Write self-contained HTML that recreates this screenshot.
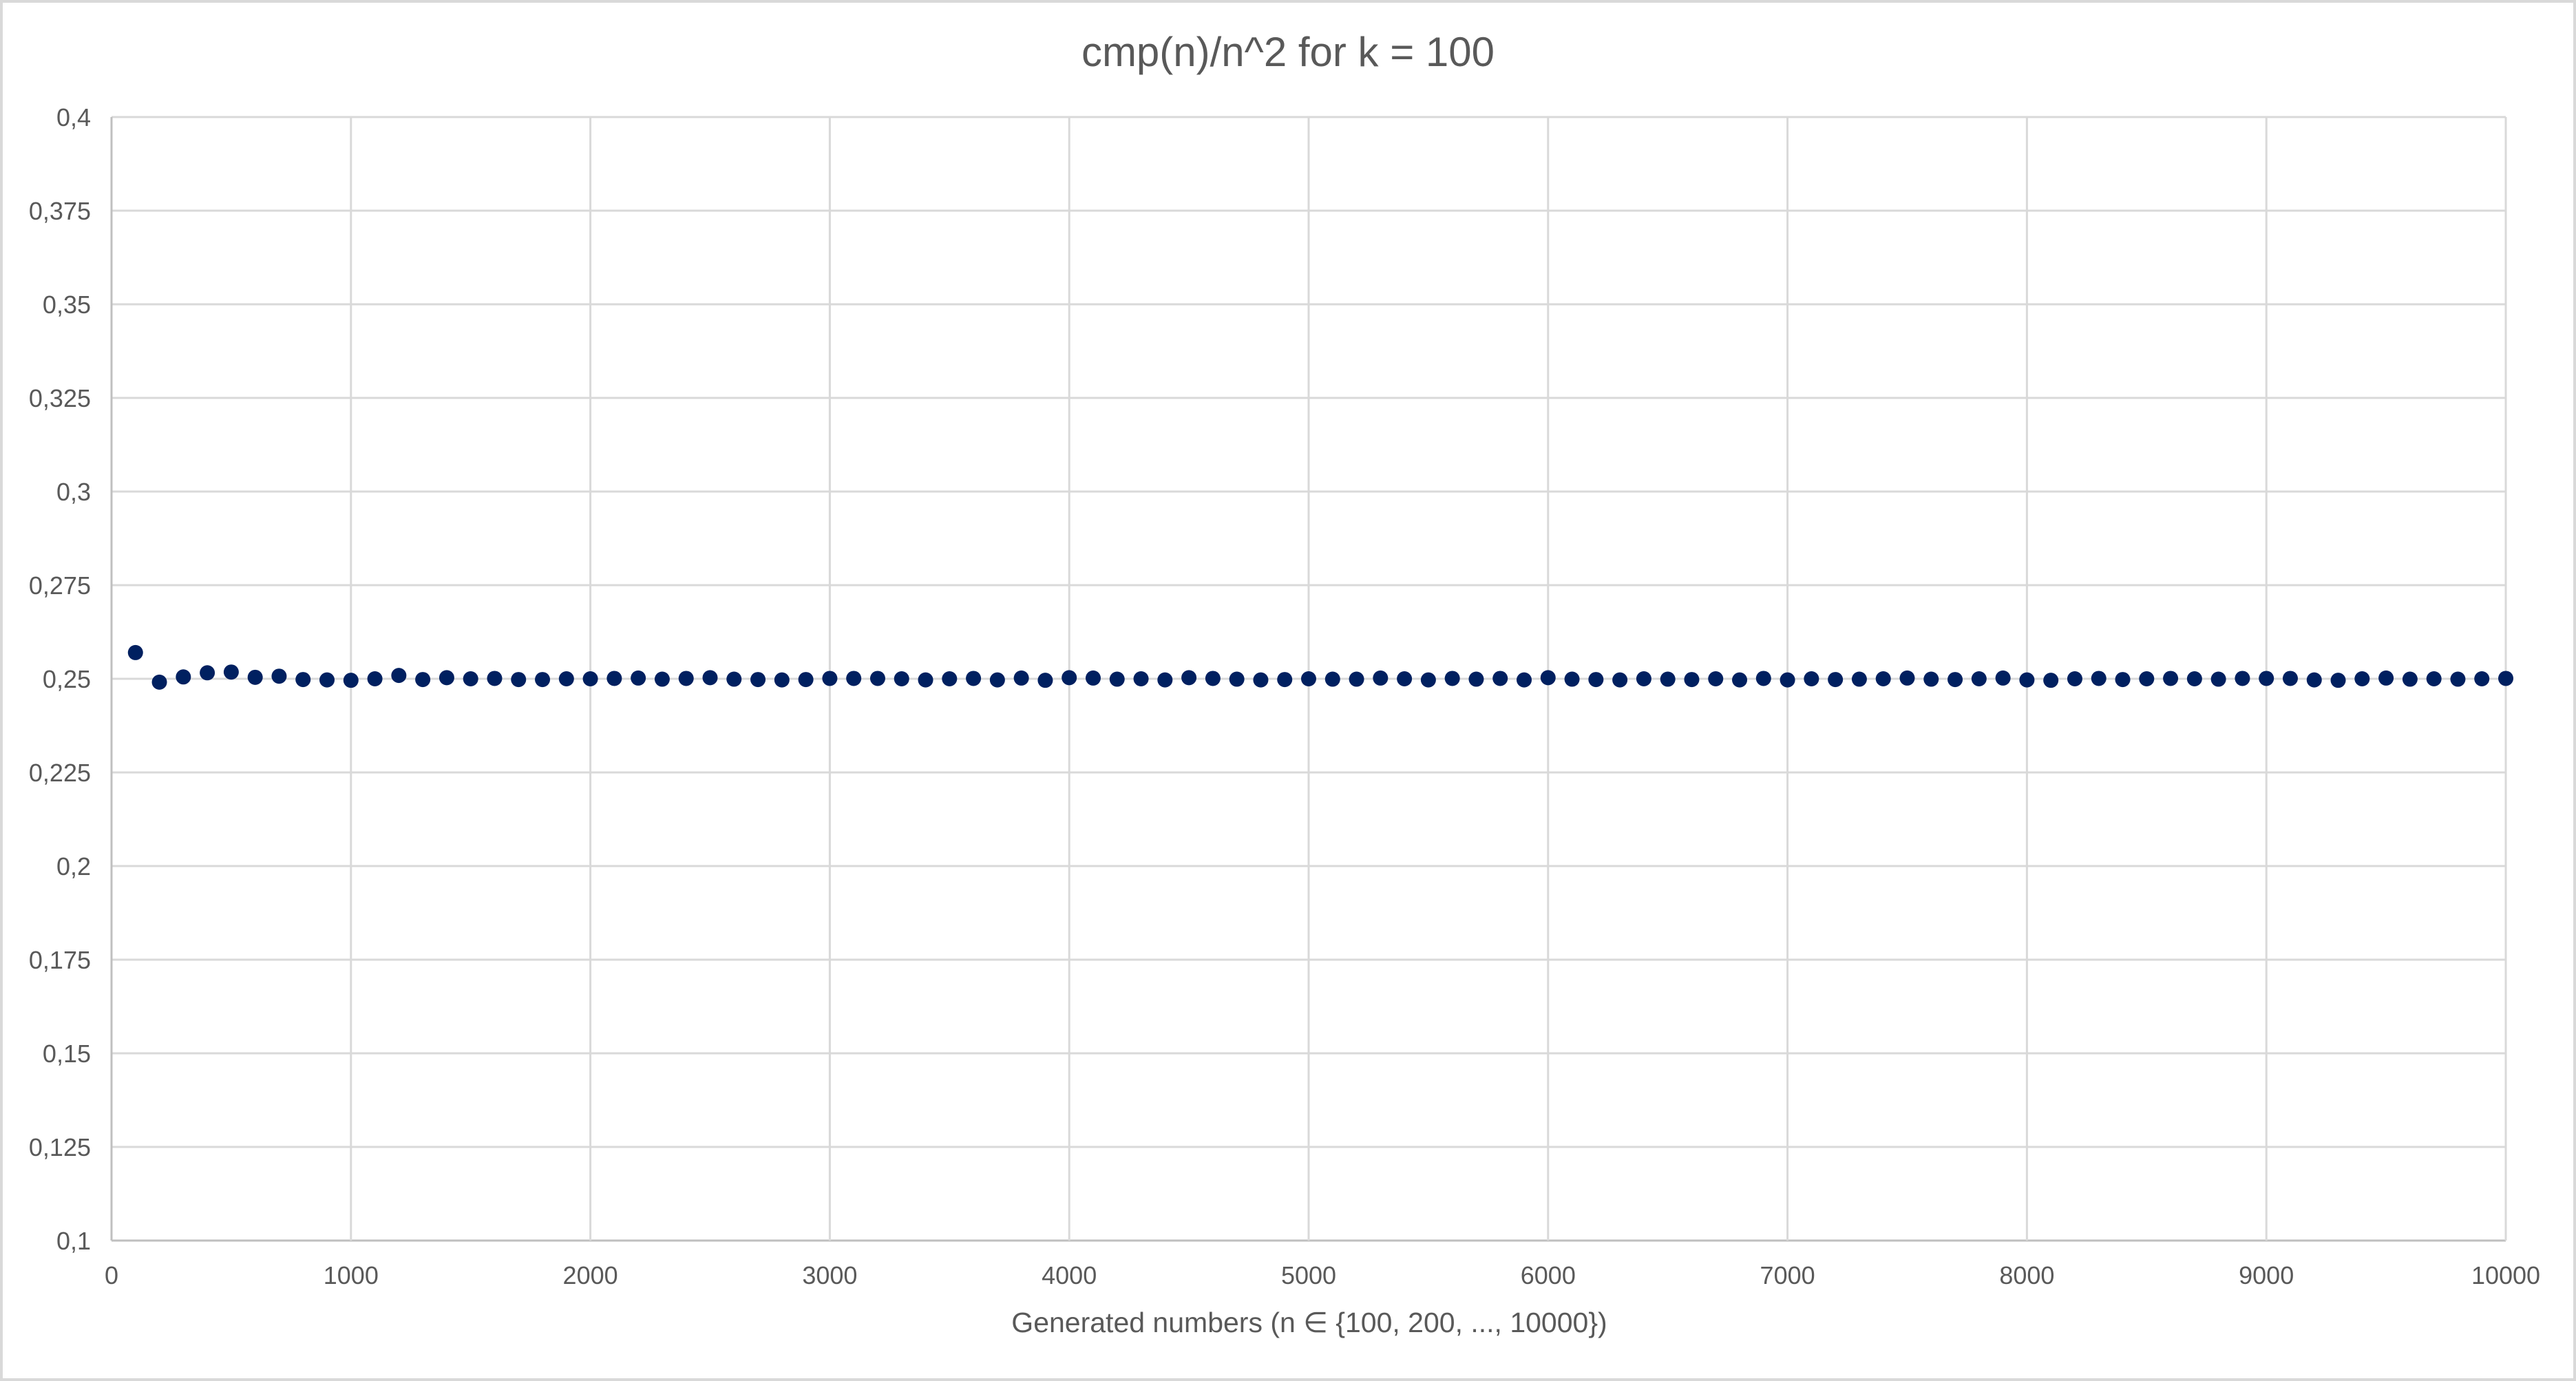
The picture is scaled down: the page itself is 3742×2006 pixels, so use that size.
<!DOCTYPE html>
<html><head><meta charset="utf-8"><style>
html,body{margin:0;padding:0;background:#fff}
svg{display:block;font-family:"Liberation Sans",sans-serif}
</style></head><body>
<svg id="chart" width="3742" height="2006" xmlns="http://www.w3.org/2000/svg">
<rect x="2" y="2" width="3738" height="2002" fill="#fff" stroke="#d9d9d9" stroke-width="4"/>
<text x="1871" y="96" text-anchor="middle" font-size="60" fill="#595959">cmp(n)/n^2 for k = 100</text>
<g id="grid"></g>
<g id="ticks"></g>
<g id="points"></g>
<text x="1902" y="1935" text-anchor="middle" font-size="41" fill="#595959">Generated numbers (n ∈ {100, 200, ..., 10000})</text>
</svg>
<script>
const xTicks = [0,1000,2000,3000,4000,5000,6000,7000,8000,9000,10000];
const yTicks = [0.1,0.125,0.15,0.175,0.2,0.225,0.25,0.275,0.3,0.325,0.35,0.375,0.4];
const yTickLabels = ["0,1","0,125","0,15","0,175","0,2","0,225","0,25","0,275","0,3","0,325","0,35","0,375","0,4"];
const nValues = [100,200,300,400,500,600,700,800,900,1000,1100,1200,1300,1400,1500,1600,1700,1800,1900,2000,2100,2200,2300,2400,2500,2600,2700,2800,2900,3000,3100,3200,3300,3400,3500,3600,3700,3800,3900,4000,4100,4200,4300,4400,4500,4600,4700,4800,4900,5000,5100,5200,5300,5400,5500,5600,5700,5800,5900,6000,6100,6200,6300,6400,6500,6600,6700,6800,6900,7000,7100,7200,7300,7400,7500,7600,7700,7800,7900,8000,8100,8200,8300,8400,8500,8600,8700,8800,8900,9000,9100,9200,9300,9400,9500,9600,9700,9800,9900,10000];
const ratioValues = [0.2570,0.2491,0.2505,0.2516,0.2518,0.2504,0.2507,0.2498,0.2497,0.2496,0.2500,0.2509,0.2498,0.2503,0.2500,0.2501,0.2498,0.2498,0.2500,0.2500,0.2501,0.2502,0.2499,0.2501,0.2503,0.2499,0.2498,0.2497,0.2498,0.2501,0.2501,0.2501,0.2500,0.2497,0.2500,0.2501,0.2497,0.2502,0.2496,0.2503,0.2502,0.2499,0.2500,0.2497,0.2503,0.2501,0.2499,0.2497,0.2498,0.2500,0.2499,0.2499,0.2502,0.2500,0.2497,0.2501,0.2499,0.2501,0.2497,0.2503,0.2499,0.2498,0.2497,0.2500,0.2499,0.2498,0.2500,0.2497,0.2501,0.2497,0.2500,0.2498,0.2499,0.2500,0.2502,0.2499,0.2498,0.2500,0.2502,0.2497,0.2496,0.2500,0.2501,0.2498,0.2500,0.2501,0.2500,0.2499,0.2501,0.2501,0.2501,0.2497,0.2496,0.2500,0.2502,0.2499,0.2500,0.2499,0.2500,0.2501];
const NS="http://www.w3.org/2000/svg";
const X0=162,X1=3640,Y0=1802,Y1=170;
function xs(v){return X0+(v-0)/(10000-0)*(X1-X0);}
function ys(v){return Y0-(v-0.1)/(0.4-0.1)*(Y0-Y1);}
const grid=document.getElementById('grid'),ticks=document.getElementById('ticks'),pts=document.getElementById('points');
function mk(t,a){const e=document.createElementNS(NS,t);for(const k in a)e.setAttribute(k,a[k]);return e;}
yTicks.forEach((v,i)=>{
  const l=mk('line',{x1:X0,x2:X1,y1:ys(v),y2:ys(v),stroke:i===0?'#bfbfbf':'#d9d9d9','stroke-width':3});
  
  
  grid.appendChild(l);
  const t=mk('text',{x:X0-30,y:ys(v)+13,'text-anchor':'end','font-size':36,fill:'#595959'});
  t.textContent=yTickLabels[i];
  
  
  ticks.appendChild(t);
});
xTicks.forEach((v,i)=>{
  const l=mk('line',{x1:xs(v),x2:xs(v),y1:Y1,y2:Y0,stroke:i===0?'#bfbfbf':'#d9d9d9','stroke-width':3});
  
  
  grid.appendChild(l);
  const t=mk('text',{x:xs(v),y:Y0+63,'text-anchor':'middle','font-size':36,fill:'#595959'});
  t.textContent=String(v);
  
  
  ticks.appendChild(t);
});
nValues.forEach((n,i)=>{
  const c=mk('circle',{cx:xs(n),cy:ys(ratioValues[i]),r:11,fill:'#002060'});
  
  
  pts.appendChild(c);
});
</script>
</body></html>
